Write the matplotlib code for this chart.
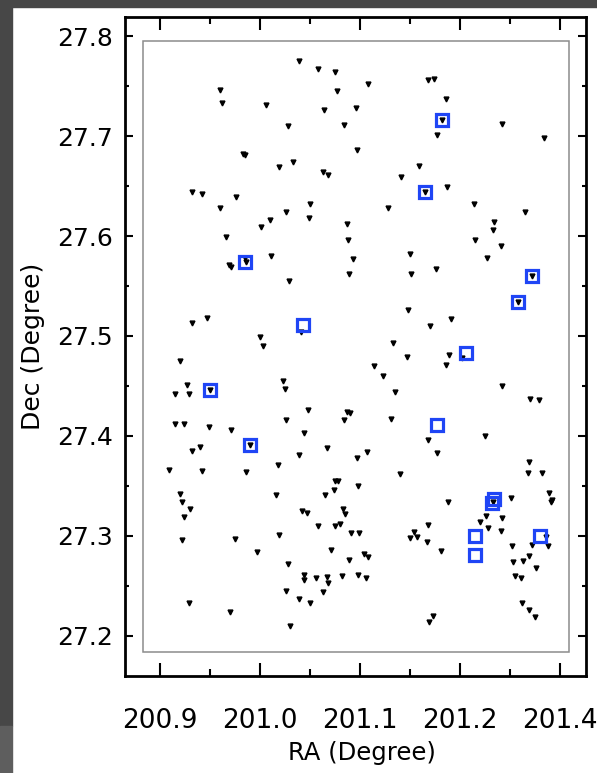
import matplotlib.pyplot as plt
from matplotlib.patches import Rectangle

# galaxy positions (small black triangles)
ra = [201.039, 201.058, 201.075, 200.960, 201.077, 200.962, 201.006, 201.064, 201.096, 201.028,
      201.084, 200.983, 200.985, 201.097, 201.033, 201.019, 201.063, 201.068, 200.932, 200.942,
      200.976, 200.960, 201.050, 201.026, 201.049, 201.010, 201.001, 201.087, 200.966, 201.088,
      201.108, 201.168, 201.174, 201.186, 201.182, 201.242, 201.177, 201.284, 201.159, 201.141,
      201.165, 201.187, 201.214, 201.128, 201.265, 201.234, 201.233, 201.215, 201.241, 200.985,
      200.986, 200.969, 200.971, 201.011, 201.093, 201.089, 201.029, 201.041, 200.947, 200.932,
      201.000, 201.003, 200.920, 200.927, 200.915, 200.929, 200.950, 201.023, 201.025, 201.048,
      201.087, 201.090, 201.026, 201.084, 200.915, 200.924, 200.949, 200.971, 201.044, 200.990,
      200.932, 200.940, 201.067, 201.039, 201.097, 201.150, 201.227, 201.151, 201.176, 201.272,
      201.258, 201.148, 201.191, 201.170, 201.133, 201.147, 201.189, 201.202, 201.186, 201.114,
      201.123, 201.242, 201.135, 201.270, 201.279, 201.131, 201.168, 201.225, 201.107, 201.177,
      200.909, 200.942, 200.986, 201.018, 200.920, 200.922, 200.930, 200.924, 201.016, 201.075,
      201.078, 201.098, 201.074, 201.065, 201.042, 201.047, 201.083, 201.085, 201.058, 201.075,
      201.080, 201.091, 201.099, 200.922, 200.975, 201.019, 200.997, 201.071, 201.089, 201.028,
      201.044, 201.044, 201.056, 201.067, 201.068, 201.082, 201.098, 201.026, 201.063, 201.039,
      201.050, 200.929, 200.970, 201.030, 201.140, 201.269, 201.268, 201.282, 201.289, 201.291,
      201.292, 201.251, 201.188, 201.233, 201.226, 201.220, 201.242, 201.168, 201.228, 201.241,
      201.154, 201.150, 201.157, 201.167, 201.286, 201.272, 201.288, 201.252, 201.181, 201.104,
      201.108, 201.269, 201.253, 201.263, 201.276, 201.106, 201.255, 201.261, 201.262, 201.269,
      201.275, 201.173, 201.169]
dec = [27.775, 27.767, 27.764, 27.746, 27.745, 27.733, 27.731, 27.726, 27.728, 27.710,
       27.711, 27.682, 27.681, 27.686, 27.674, 27.669, 27.664, 27.661, 27.644, 27.642,
       27.639, 27.628, 27.632, 27.624, 27.618, 27.616, 27.609, 27.612, 27.599, 27.596,
       27.752, 27.756, 27.757, 27.737, 27.716, 27.712, 27.701, 27.698, 27.670, 27.659,
       27.644, 27.649, 27.632, 27.628, 27.624, 27.614, 27.606, 27.596, 27.590, 27.578,
       27.574, 27.571, 27.569, 27.580, 27.577, 27.562, 27.555, 27.504, 27.518, 27.513,
       27.499, 27.490, 27.475, 27.451, 27.442, 27.442, 27.446, 27.455, 27.447, 27.426,
       27.424, 27.423, 27.416, 27.416, 27.412, 27.412, 27.409, 27.406, 27.403, 27.391,
       27.385, 27.389, 27.388, 27.381, 27.378, 27.582, 27.578, 27.562, 27.567, 27.560,
       27.534, 27.526, 27.517, 27.510, 27.493, 27.479, 27.481, 27.478, 27.471, 27.470,
       27.460, 27.450, 27.444, 27.437, 27.436, 27.417, 27.396, 27.400, 27.384, 27.383,
       27.366, 27.365, 27.364, 27.371, 27.342, 27.334, 27.327, 27.319, 27.341, 27.355,
       27.355, 27.350, 27.346, 27.341, 27.325, 27.323, 27.327, 27.322, 27.310, 27.310,
       27.312, 27.303, 27.303, 27.296, 27.297, 27.301, 27.284, 27.286, 27.276, 27.272,
       27.261, 27.256, 27.258, 27.259, 27.253, 27.260, 27.261, 27.245, 27.244, 27.237,
       27.233, 27.233, 27.224, 27.210, 27.362, 27.374, 27.363, 27.363, 27.343, 27.334,
       27.336, 27.338, 27.334, 27.334, 27.320, 27.314, 27.318, 27.311, 27.308, 27.305,
       27.304, 27.298, 27.299, 27.294, 27.299, 27.291, 27.290, 27.290, 27.285, 27.282,
       27.279, 27.280, 27.274, 27.275, 27.268, 27.258, 27.260, 27.258, 27.233, 27.226,
       27.219, 27.220, 27.214]

# highlighted objects (blue squares)
sel_ra = [201.182, 201.165, 200.985, 201.043, 200.950, 200.990, 201.272, 201.258,
          201.206, 201.177, 201.234, 201.232, 201.215, 201.215, 201.280]
sel_dec = [27.716, 27.644, 27.574, 27.511, 27.446, 27.391, 27.560, 27.534,
           27.483, 27.411, 27.337, 27.333, 27.300, 27.281, 27.300]

xticks = [200.9, 201.0, 201.1, 201.2, 201.3]
xticklabels = ['200.9', '201.0', '201.1', '201.2', '201.4']
yticks = [27.2, 27.3, 27.4, 27.5, 27.6, 27.7, 27.8]

fig = plt.figure(figsize=(5.97, 7.73), dpi=100)

# screenshot border strips
fig.patches.append(Rectangle((0, 0.061), 0.0205, 0.939, transform=fig.transFigure,
                             color='#474747', zorder=0))
fig.patches.append(Rectangle((0, 0), 0.0205, 0.061, transform=fig.transFigure,
                             color='#5e5e5e', zorder=0))
fig.patches.append(Rectangle((0, 0.991), 1, 0.009, transform=fig.transFigure,
                             color='#474747', zorder=0))

ax = fig.add_axes([0.2094, 0.1255, 0.7722, 0.8525])

# inner field outline
ax.add_patch(Rectangle((200.883, 27.184), 201.309 - 200.883, 27.795 - 27.184,
                       fill=False, edgecolor='#8c8c8c', linewidth=1.1, zorder=1))

ax.plot(ra, dec, 'v', color='black', markersize=3.5, linestyle='none', zorder=2)
ax.plot(sel_ra, sel_dec, 's', markerfacecolor='none', markeredgecolor='#1f45f5',
        markersize=9, markeredgewidth=2.3, linestyle='none', zorder=3)

ax.set_xlim(200.865, 201.326)
ax.set_ylim(27.160, 27.819)

ax.set_xticks(xticks)
ax.set_xticklabels(xticklabels)
ax.set_xticks([200.95, 201.05, 201.15, 201.25], minor=True)
ax.set_yticks(yticks)
ax.set_yticklabels([f'{v:.1f}' for v in yticks])
ax.set_yticks([27.25, 27.35, 27.45, 27.55, 27.65, 27.75], minor=True)

ax.tick_params(axis='x', which='major', direction='in', top=True, bottom=True,
               length=9.4, width=1.5, labelsize=19, pad=23)
ax.tick_params(axis='x', which='minor', direction='in', top=True, bottom=True,
               length=5, width=1.5)
ax.tick_params(axis='y', which='major', direction='in', left=True, right=True,
               length=6, width=1.5, labelsize=18, pad=8.5)
ax.tick_params(axis='y', which='minor', direction='in', left=True, right=True,
               length=3.2, width=1.5)

for s in ax.spines.values():
    s.set_linewidth(2)

ax.set_xlabel('RA (Degree)', fontsize=17.5)
ax.set_ylabel('Dec (Degree)', fontsize=18)
ax.xaxis.set_label_coords(0.513, -0.098)
ax.yaxis.set_label_coords(-0.174, 0.50)

fig.savefig('out.png', dpi=100)
